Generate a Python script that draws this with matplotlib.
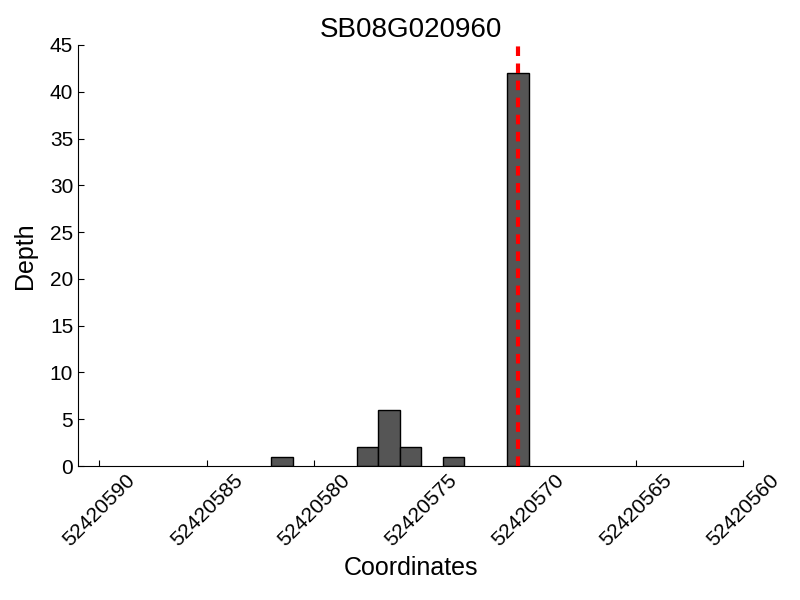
import matplotlib
matplotlib.use("Agg")
import matplotlib.pyplot as plt

plt.rcParams['font.family'] = ['Liberation Sans', 'DejaVu Sans']

# Coverage depth per base (left edge of each 1-bp bin)
coords = [52420581, 52420577, 52420576, 52420575, 52420573, 52420570]
depth = [1, 2, 6, 2, 1, 42]
site = 52420570.5
gene = "SB08G020960"

fig = plt.figure(figsize=(8, 6), dpi=100)
ax = fig.add_axes([0.0975, 0.2233, 0.8315, 0.7017])

ax.bar(coords, depth, width=1, align='edge', color='#555555', edgecolor='black', linewidth=1)
ax.axvline(site, color='red', linestyle='--', linewidth=3, dashes=(2.3, 1.8))

ax.set_xlim(52420591, 52420560)
ax.set_ylim(0, 45)
ax.set_xticks([52420590, 52420585, 52420580, 52420575, 52420570, 52420565, 52420560])
ax.ticklabel_format(axis='x', useOffset=False, style='plain')
ax.set_yticks(range(0, 46, 5))

ax.spines['top'].set_visible(False)
ax.spines['right'].set_visible(False)
ax.tick_params(direction='in', length=4, labelsize=15, top=False, right=False)
plt.setp(ax.get_xticklabels(), rotation=45)

ax.set_title(gene, fontsize=20)
ax.set_xlabel("Coordinates", fontsize=18)
ax.set_ylabel("Depth", fontsize=18, labelpad=9)

fig.savefig("out.png")
